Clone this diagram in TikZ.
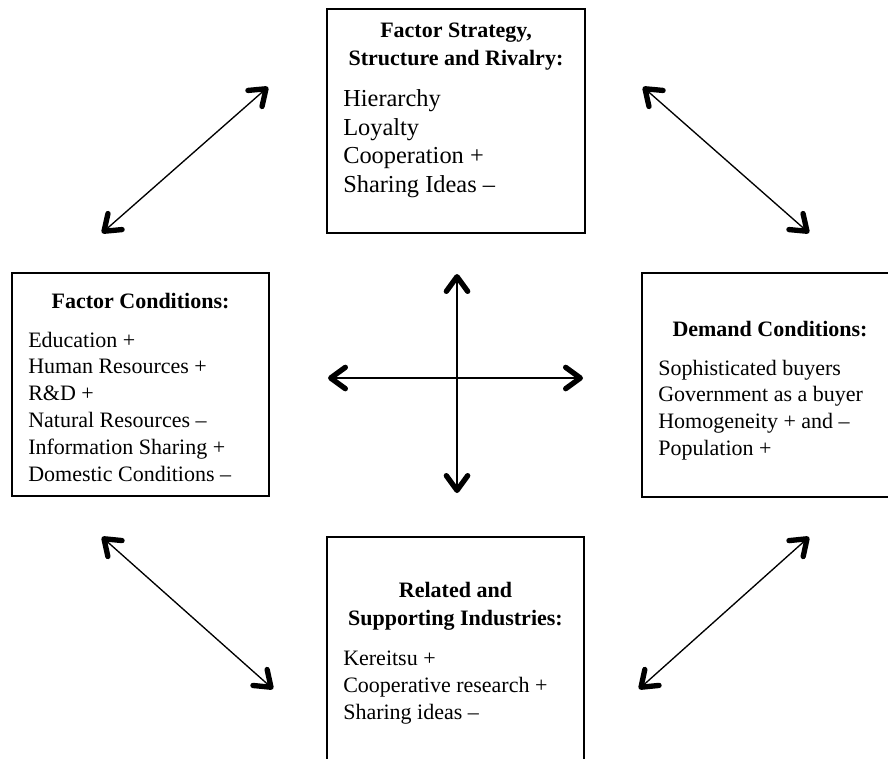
\documentclass[tikz,border=0pt]{standalone}
\usepackage{fontspec}
\setmainfont{Liberation Serif}
\usetikzlibrary{arrows.meta}
\tikzset{
  box/.style={draw, line width=1.1pt, inner sep=0pt},
  ttl/.style={font=\bfseries\fontsize{16.5}{20}\selectfont, anchor=base, inner sep=0pt},
  itm/.style={font=\fontsize{16.5}{20}\selectfont, anchor=base west, inner sep=0pt},
  bigitm/.style={font=\fontsize{18.3}{22}\selectfont, anchor=base west, inner sep=0pt},
  >={Straight Barb[length=11pt,width=16pt,line width=4pt,round]},
  dbl/.style={<->, line width=1pt},
  cross/.style={<->, line width=1.5pt}
}
\begin{document}
\begin{tikzpicture}[x=0.75pt,y=-0.75pt]
\useasboundingbox (0,0) rectangle (888,758);
\clip (0,0) rectangle (888,758);
\fill[white] (0,0) rectangle (888,758);

% boxes (right and bottom boxes run past the picture's edge)
\node[box, minimum width=193.5pt, minimum height=168pt] (top) at (456,121) {};
\node[box, minimum width=192.75pt, minimum height=167.25pt] (left) at (140.5,384.5) {};
\node[box, minimum width=225pt, minimum height=168pt] (right) at (792,385) {};
\node[box, minimum width=192.75pt, minimum height=198pt] (bottom) at (455.5,669) {};

% top box text
\node[ttl] (tt1) at (456,37) {Factor Strategy,};
\node[ttl] (tt2) at (456,65) {Structure and Rivalry:};
\foreach \t [count=\i] in {Hierarchy, Loyalty, Cooperation +, Sharing Ideas –}
  \node[bigitm] (tb\i) at (343,{106.5+28.6*(\i-1)}) {\t};

% left box text
\node[ttl] (lt1) at (140.5,308) {Factor Conditions:};
\foreach \t [count=\i] in {Education +, Human Resources +, R\&D +, Natural Resources –, Information Sharing +, Domestic Conditions –}
  \node[itm] (lb\i) at (28,{347+26.8*(\i-1)}) {\t};

% right box text
\node[ttl] (rt1) at (770,336) {Demand Conditions:};
\foreach \t [count=\i] in {Sophisticated buyers, Government as a buyer, Homogeneity + and –, Population +}
  \node[itm] (rb\i) at (658,{375+26.7*(\i-1)}) {\t};

% bottom box text
\node[ttl] (bt1) at (455.5,597) {Related and};
\node[ttl] (bt2) at (455.5,625) {Supporting Industries:};
\foreach \t [count=\i] in {Kereitsu +, Cooperative research +, Sharing ideas –}
  \node[itm] (bb\i) at (343,{665.7+26.8*(\i-1)}) {\t};

% arrow end points
\coordinate (a1) at (102,233); \coordinate (a2) at (268,87);
\coordinate (b1) at (643,87);  \coordinate (b2) at (809,233);
\coordinate (c1) at (102,537); \coordinate (c2) at (273,689);
\coordinate (d1) at (809,537); \coordinate (d2) at (639,689);
\coordinate (v1) at (457,274); \coordinate (v2) at (457,493);
\coordinate (h1) at (328,378); \coordinate (h2) at (583,378);

\draw[dbl] (a1) -- (a2);
\draw[dbl] (b1) -- (b2);
\draw[dbl] (c1) -- (c2);
\draw[dbl] (d1) -- (d2);
\draw[cross] (v1) -- (v2);
\draw[cross] (h1) -- (h2);
\end{tikzpicture}
\end{document}
